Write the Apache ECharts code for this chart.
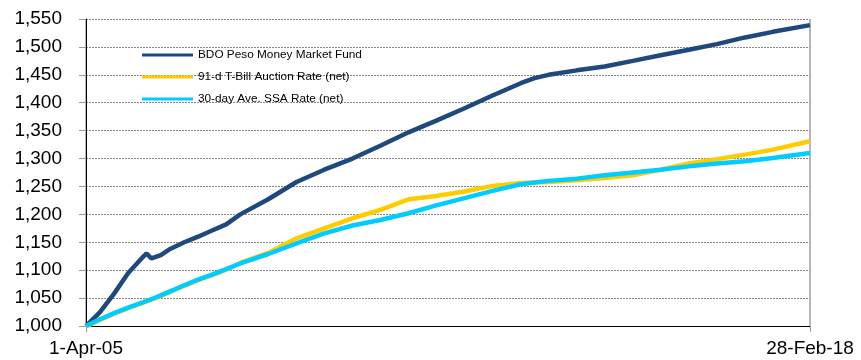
<!DOCTYPE html>
<html>
<head>
<meta charset="utf-8">
<script src="https://cdn.jsdelivr.net/npm/echarts@6/dist/echarts.min.js"></script>
<style>
  html, body { margin: 0; padding: 0; background: #fff; }
  #chart { width: 861px; height: 360px; }
</style>
</head>
<body>
<div id="chart"></div>
<script>
// Observation dates (index growth of 1,000 invested on 1-Apr-05)
const dates = [
  '2005-04-01', '2005-07-01', '2005-10-01', '2006-01-01', '2006-04-01',
  '2006-05-01', '2006-06-01', '2006-08-01', '2006-10-01', '2007-01-01',
  '2007-04-01', '2007-07-01', '2007-10-01', '2008-01-01', '2008-07-01',
  '2009-01-01', '2009-07-01', '2010-01-01', '2010-07-01', '2011-01-01',
  '2011-07-01', '2012-01-01', '2012-07-01', '2013-01-01', '2013-04-01',
  '2013-07-01', '2014-01-01', '2014-07-01', '2015-01-01', '2015-07-01',
  '2016-01-01', '2016-07-01', '2017-01-01', '2017-07-01', '2018-02-28'
];

const seriesNames = [
  'BDO Peso Money Market Fund',
  '91-d T-Bill Auction Rate (net)',
  '30-day Ave. SSA Rate (net)'
];

const bdoFund = [
  1000, 1025, 1058, 1095, 1122, 1130, 1121, 1127, 1138, 1150,
  1160, 1171, 1182, 1200, 1227, 1258, 1280, 1300, 1323, 1347,
  1368, 1390, 1413, 1435, 1444, 1450, 1458, 1465, 1475, 1485,
  1495, 1505, 1517, 1527, 1539
];

const tbill91 = [
  999, 1011, 1022, 1032, 1041, 1044, 1047, 1054, 1061, 1072,
  1082, 1091, 1101, 1113, 1131, 1157, 1175, 1193, 1208, 1227,
  1233, 1241, 1251, 1256, 1257, 1258, 1261, 1265, 1270, 1280,
  1291, 1299, 1307, 1316, 1331
];

const ssa30 = [
  1000, 1012, 1023, 1033, 1042, 1045, 1048, 1055, 1062, 1073,
  1083, 1092, 1102, 1112, 1129, 1148, 1166, 1180, 1190, 1202,
  1216, 1229, 1242, 1254, 1257, 1260, 1264, 1270, 1275, 1280,
  1286, 1291, 1295, 1301, 1310
];

const xTickLabels = ['1-Apr-05', '28-Feb-18'];
const yMin = 1000, yMax = 1550, yStep = 50;

const colors = ['#1F497D', '#FFCC00', '#00CCFF'];
const font = '"Liberation Sans", Arial, sans-serif';

// day offsets from the first observation
function toDay(s) {
  const [y, m, d] = s.split('-').map(Number);
  return Date.UTC(y, m - 1, d) / 86400000;
}
const day0 = toDay(dates[0]);
const xs = dates.map(d => toDay(d) - day0);
const span = xs[xs.length - 1];

function pairs(vals) { return vals.map((v, i) => [xs[i], v]); }

const chart = echarts.init(document.getElementById('chart'), null, { renderer: 'canvas' });
chart.setOption({
  animation: false,
  backgroundColor: '#fff',
  textStyle: { fontFamily: font },
  grid: { left: 86, right: 51, top: 19, bottom: 34, outerBoundsMode: 'none' },
  legend: {
    data: seriesNames,
    orient: 'vertical',
    left: 142,
    top: 48,
    padding: 0,
    itemGap: 8,
    itemWidth: 51,
    itemHeight: 3,
    icon: 'rect',
    textStyle: { fontFamily: font, fontSize: 11.8, lineHeight: 14, color: '#000' }
  },
  xAxis: {
    type: 'value',
    min: 0,
    max: span,
    interval: span,
    axisLine: { lineStyle: { color: '#000', width: 1 } },
    axisTick: { show: true, length: 6, lineStyle: { color: '#999' } },
    splitLine: { show: true, lineStyle: { color: '#a0a0a0', width: 1.5 } },
    axisLabel: {
      margin: 13,
      fontSize: 19,
      color: '#000',
      fontFamily: font,
      showMinLabel: true,
      showMaxLabel: true,
      formatter: v => (v === 0 ? xTickLabels[0] : xTickLabels[1])
    }
  },
  yAxis: {
    type: 'value',
    min: yMin,
    max: yMax,
    interval: yStep,
    axisLine: { show: true, lineStyle: { color: '#000', width: 1 } },
    axisTick: { show: true, length: 7, lineStyle: { color: '#999' } },
    splitLine: { show: true, lineStyle: { color: '#888', width: 1, type: [2, 1] } },
    axisLabel: {
      margin: 24,
      fontSize: 19,
      color: '#000',
      fontFamily: font,
      formatter: v => v.toLocaleString('en-US')
    }
  },
  series: [bdoFund, tbill91, ssa30].map((vals, i) => ({
    name: seriesNames[i],
    type: 'line',
    data: pairs(vals),
    symbol: 'none',
    color: colors[i],
    lineStyle: { color: colors[i], width: 4.5 }
  }))
});
</script>
</body>
</html>
